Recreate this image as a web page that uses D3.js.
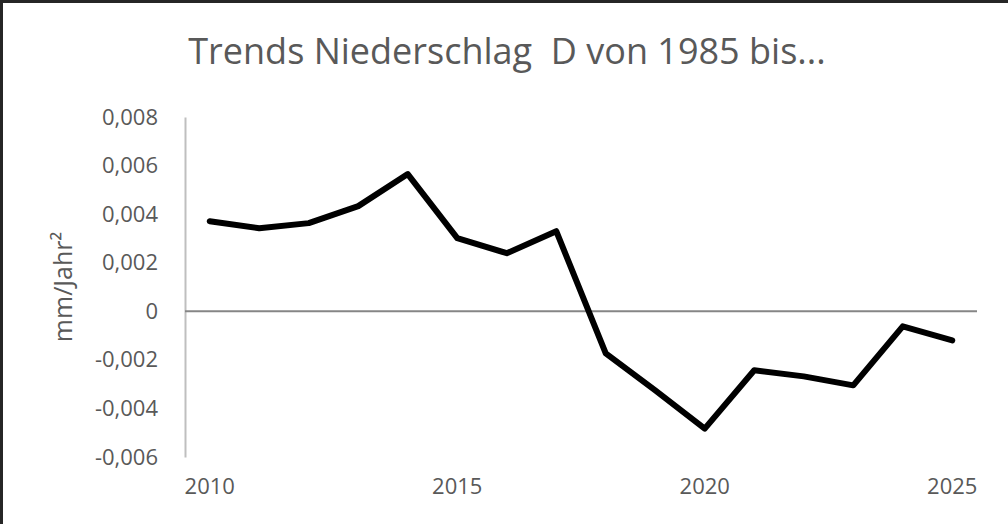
<!DOCTYPE html>
<html><head><meta charset="utf-8">
<script src="https://cdn.jsdelivr.net/npm/d3@7"></script>
<style>
html,body{margin:0;padding:0;background:#fff;}
svg{display:block;}
text{font-family:"Open Sans","Noto Sans",sans-serif;fill:#595959;}
</style></head><body>
<svg id="c" width="1008" height="524"></svg>
<script>
const years = [2010,2011,2012,2013,2014,2015,2016,2017,2018,2019,2020,2021,2022,2023,2024,2025];
const values = [0.00371,0.00342,0.00363,0.00433,0.00565,0.00301,0.00239,0.00330,-0.00173,-0.00326,-0.00483,-0.00243,-0.00268,-0.00305,-0.00062,-0.00120];
const yTicks = [-0.006,-0.004,-0.002,0,0.002,0.004,0.006,0.008];
const xLabelYears = [2010,2015,2020,2025];
const title = "Trends Niederschlag  D von 1985 bis...";
const yTitle = "mm/Jahr²";

const svg = d3.select("#c");
const W = 1008, H = 524;
svg.append("rect").attr("x",0).attr("y",0).attr("width",W).attr("height",3).attr("fill","#262626");
svg.append("rect").attr("x",0).attr("y",0).attr("width",3).attr("height",H).attr("fill","#262626");

const x = d3.scaleBand().domain(years).range([185,977]).paddingInner(0).paddingOuter(0);
const y = d3.scaleLinear().domain([-0.006,0.008]).range([457,117]);
const fmt = v => v === 0 ? "0" : d3.format(".3f")(v).replace(".", ",").replace("−","-");

const yAxis = d3.axisLeft(y).tickValues(yTicks).tickSize(0).tickPadding(27).tickFormat(fmt);
const gy = svg.append("g").attr("transform","translate(185,0)").call(yAxis);
gy.select(".domain").attr("stroke","#bfbfbf").attr("stroke-width",2);
gy.selectAll("text").style("font-size","22px").attr("fill","#595959").style("font-family","'Open Sans','Noto Sans',sans-serif");

svg.append("line").attr("x1",185).attr("x2",977).attr("y1",y(0)).attr("y2",y(0))
  .attr("stroke","#868686").attr("stroke-width",2);

const xAxis = d3.axisBottom(x).tickValues(xLabelYears).tickSize(0).tickPadding(0).tickFormat(d3.format("d"));
const gx = svg.append("g").attr("transform","translate(0,478)").call(xAxis);
gx.select(".domain").remove();
gx.selectAll("text").style("font-size","22px").attr("fill","#595959").style("font-family","'Open Sans','Noto Sans',sans-serif");

const line = d3.line().x((d,i)=>x(years[i])+x.bandwidth()/2).y(d=>y(d));
svg.append("path").datum(values).attr("d",line).attr("fill","none")
  .attr("stroke","#000").attr("stroke-width",6).attr("stroke-linejoin","round").attr("stroke-linecap","round");

svg.append("text").attr("x",507).attr("y",64).attr("text-anchor","middle")
  .style("white-space","pre").attr("xml:space","preserve")
  .style("font-size","36px").attr("fill","#595959").text(title);

svg.append("text").attr("transform","translate(72,287) rotate(-90)").attr("text-anchor","middle")
  .style("font-size","25px").attr("fill","#595959").text(yTitle);
</script>
</body></html>
